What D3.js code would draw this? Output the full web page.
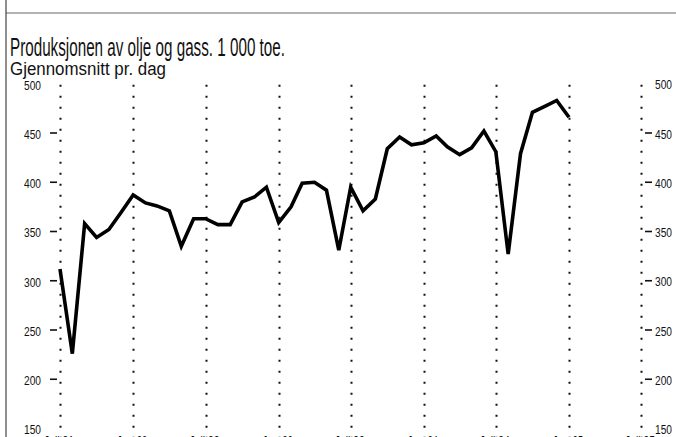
<!DOCTYPE html>
<html>
<head>
<meta charset="utf-8">
<script src="https://cdn.jsdelivr.net/npm/d3@7"></script>
<style>
  html, body { margin: 0; padding: 0; background: #fff; }
  svg { display: block; }
  text { font-family: "Liberation Sans Narrow", "Arial Narrow", "Liberation Sans", sans-serif; fill: #111; }
</style>
</head>
<body>
<svg id="chart" width="676" height="437"></svg>
<script>
const title = "Produksjonen av olje og gass. 1 000 toe.";
const subtitle = "Gjennomsnitt pr. dag";

const months = [
  "1991-07","1991-08","1991-09","1991-10","1991-11","1991-12",
  "1992-01","1992-02","1992-03","1992-04","1992-05","1992-06",
  "1992-07","1992-08","1992-09","1992-10","1992-11","1992-12",
  "1993-01","1993-02","1993-03","1993-04","1993-05","1993-06",
  "1993-07","1993-08","1993-09","1993-10","1993-11","1993-12",
  "1994-01","1994-02","1994-03","1994-04","1994-05","1994-06",
  "1994-07","1994-08","1994-09","1994-10","1994-11","1994-12",
  "1995-01"
];
const production = [
  312, 226, 358, 344, 352, 369,
  387, 379, 376, 371, 335, 363,
  363, 357, 357, 380, 385, 395,
  359, 375, 399, 400, 392, 331,
  395, 371, 383, 434, 446, 438,
  440, 447, 436, 428, 435, 452,
  431, 327, 429, 471, 477, 483,
  466
];
const xTickDates = ["1991-07","1992-01","1992-07","1993-01","1993-07","1994-01","1994-07","1995-01","1995-07"];
const xTickLabels = ["Juli 91","Jan. 92","Juli 92","Jan. 93","Juli 93","Jan. 94","Juli 94","Jan. 95","Juli 95"];
const yTicks = [150, 200, 250, 300, 350, 400, 450, 500];

const parse = d3.timeParse("%Y-%m");
const data = months.map((m, i) => ({ date: parse(m), value: production[i] }));

const svg = d3.select("#chart");
const FONT = "'Liberation Sans Narrow','Arial Narrow','Liberation Sans',sans-serif";

// frame lines
svg.append("line").attr("x1", 6).attr("x2", 676).attr("y1", 13).attr("y2", 13)
  .attr("stroke", "#9a9a9a").attr("stroke-width", 1.5);
svg.append("line").attr("x1", 6).attr("x2", 6).attr("y1", 0).attr("y2", 437)
  .attr("stroke", "#444").attr("stroke-width", 1.2);

// titles
svg.append("text").attr("x", 10).attr("y", 56)
  .attr("font-size", 26).attr("textLength", 275).attr("lengthAdjust", "spacingAndGlyphs")
  .text(title);
svg.append("text").attr("x", 10).attr("y", 75)
  .attr("font-size", 17.5).attr("textLength", 156).attr("lengthAdjust", "spacingAndGlyphs")
  .text(subtitle);

const x = d3.scaleTime().domain([parse("1991-07"), parse("1995-07")]).range([60, 641]);
const y = d3.scaleLinear().domain([150, 500]).range([428.5, 83.75]);

// dotted vertical grid lines
svg.append("g").selectAll("line").data(xTickDates).join("line")
  .attr("x1", d => Math.round(x(parse(d))) + 0.5)
  .attr("x2", d => Math.round(x(parse(d))) + 0.5)
  .attr("y1", y(500) + 1).attr("y2", 437)
  .attr("stroke", "#111").attr("stroke-width", 2)
  .attr("stroke-dasharray", "2,9");

// left axis
const leftAxis = d3.axisLeft(y).tickValues(yTicks).tickSize(0).tickPadding(0);
const gl = svg.append("g").attr("transform", "translate(41,0)").call(leftAxis);
gl.select(".domain").remove();
gl.selectAll("text").attr("font-size", 13).attr("dy", "0.42em")
  .attr("textLength", 17).attr("lengthAdjust", "spacingAndGlyphs").style("font-family", FONT);

// right axis
const rightAxis = d3.axisRight(y).tickValues(yTicks).tickSize(0).tickPadding(0);
const gr = svg.append("g").attr("transform", "translate(655,0)").call(rightAxis);
gr.select(".domain").remove();
gr.selectAll("text").attr("font-size", 12).attr("dy", "0.42em")
  .attr("textLength", 17).attr("lengthAdjust", "spacingAndGlyphs").style("font-family", FONT);

// tick dashes (not on 150/500)
const inner = yTicks.filter(v => v > 150 && v < 500);
svg.append("g").selectAll("line").data(inner).join("line")
  .attr("x1", 50).attr("x2", 57).attr("y1", d => y(d)).attr("y2", d => y(d))
  .attr("stroke", "#111").attr("stroke-width", 1.6);
svg.append("g").selectAll("line").data(inner).join("line")
  .attr("x1", 645).attr("x2", 652).attr("y1", d => y(d)).attr("y2", d => y(d))
  .attr("stroke", "#111").attr("stroke-width", 1.6);

// x labels (cut at bottom edge, as in the reference)
svg.append("g").selectAll("text").data(xTickDates).join("text")
  .attr("x", d => x(parse(d)) - 1).attr("y", 445)
  .attr("text-anchor", "middle").attr("font-size", 13)
  .attr("textLength", 30).attr("lengthAdjust", "spacingAndGlyphs")
  .text((d, i) => xTickLabels[i]);

// production line
const line = d3.line().x(d => x(d.date)).y(d => y(d.value));
svg.append("path").datum(data)
  .attr("d", line).attr("fill", "none")
  .attr("stroke", "#000").attr("stroke-width", 3.6)
  .attr("stroke-linejoin", "miter").attr("stroke-miterlimit", 4);
</script>
</body>
</html>
